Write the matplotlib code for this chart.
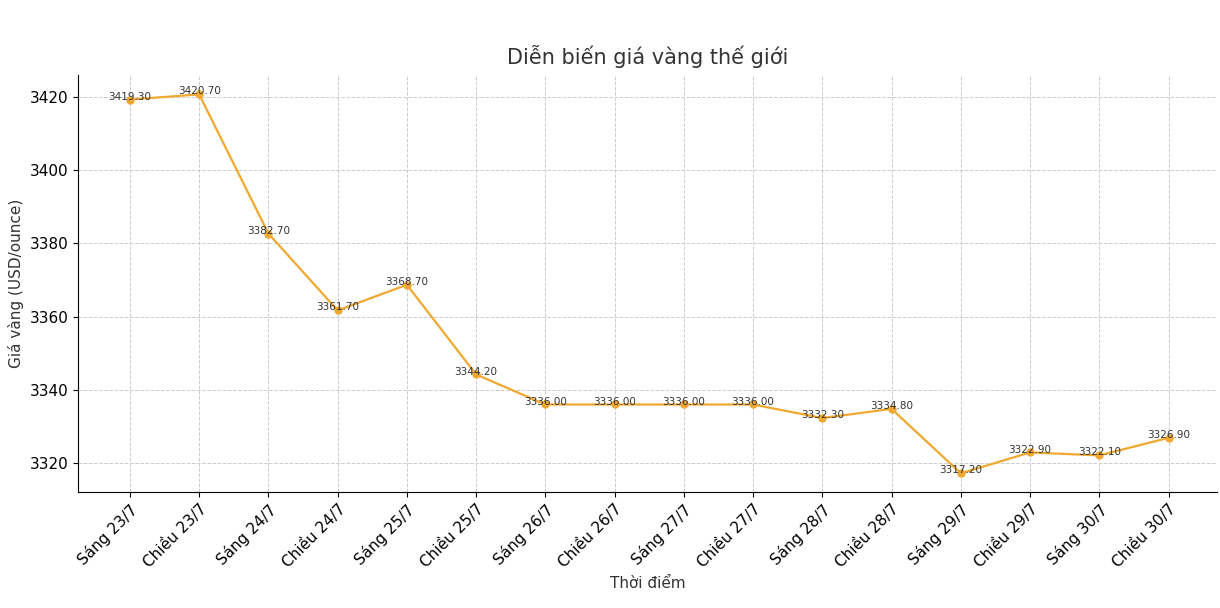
import matplotlib
matplotlib.use("Agg")
import matplotlib.pyplot as plt

categories = ["Sáng 23/7","Chiều 23/7","Sáng 24/7","Chiều 24/7","Sáng 25/7","Chiều 25/7",
              "Sáng 26/7","Chiều 26/7","Sáng 27/7","Chiều 27/7","Sáng 28/7","Chiều 28/7",
              "Sáng 29/7","Chiều 29/7","Sáng 30/7","Chiều 30/7"]
prices = [3419.30,3420.70,3382.70,3361.70,3368.70,3344.20,3336.00,3336.00,3336.00,3336.00,
          3332.30,3334.80,3317.20,3322.90,3322.10,3326.90]

fig = plt.figure(figsize=(12.2,6.08), dpi=100)
ax = fig.add_axes([78/1220, 1-492/608, (1217-78)/1220, (492-75)/608])
x = range(len(categories))
ax.plot(x, prices, color="#f0a830", marker="o", markersize=5, linewidth=1.6)
for xi, v in zip(x, prices):
    ax.annotate(f"{v:.2f}", (xi, v), xytext=(0, -1.5), textcoords="offset points",
                fontsize=7.5, ha="center", va="bottom", color="#333333")
ax.set_xlim(-0.75, len(categories)-0.3)
ax.set_ylim(3312.1, 3426.0)
ax.set_yticks([3320,3340,3360,3380,3400,3420])
ax.set_xticks(list(x))
ax.set_xticklabels(categories, rotation=45, ha="right", rotation_mode="anchor", fontsize=11)
for lbl in ax.get_xticklabels():
    lbl.set_x(lbl.get_position()[0])
ax.tick_params(axis="y", labelsize=11)
ax.grid(True, linestyle="--", color="#cccccc", linewidth=0.7)
ax.spines["top"].set_visible(False)
ax.spines["right"].set_visible(False)
ax.set_title("Diễn biến giá vàng thế giới", fontsize=15, color="#333333", pad=8)
ax.set_xlabel("Thời điểm", fontsize=11, color="#333333")
ax.set_ylabel("Giá vàng (USD/ounce)", fontsize=11, color="#333333")
fig.savefig("out.png", dpi=100)
